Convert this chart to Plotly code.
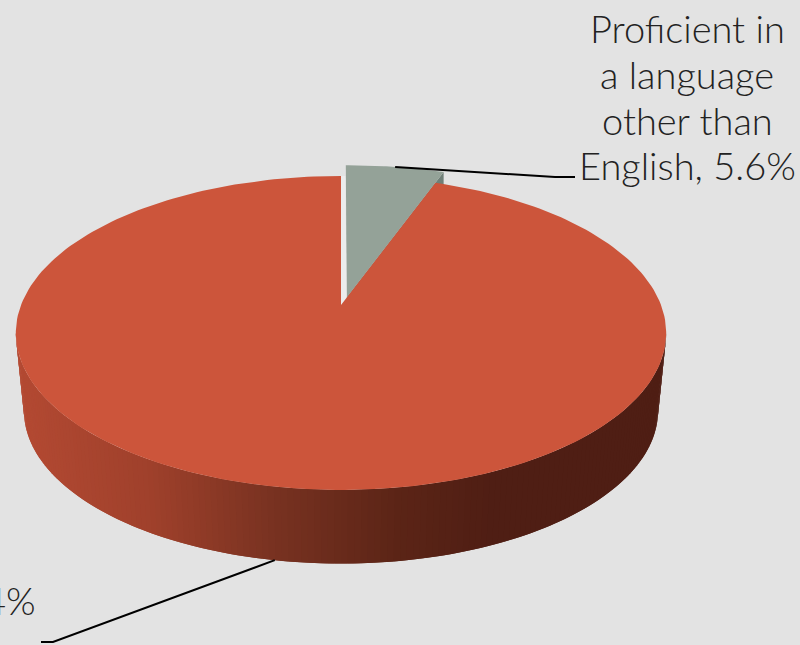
import numpy as np
import plotly.graph_objects as go

# Survey shares, in percent
categories = ["English only", "Proficient in a language other than English"]
shares = [94.4, 5.6]
label_lines = ["Proficient in", "a language", "other than", "English, 5.6%"]
clipped_label = "94.4%"

BACKGROUND = "#e3e3e3"
RED_TOP = "#cc553b"
GREY_TOP = "#94a298"
GREY_CUT = "#6f7f77"
GAP_FACE = "#ececec"
LABEL_FONT = dict(family="Lato", size=38, color="#222222", weight=300)
PERSPECTIVE = 0.178

# Colour of the disc wall, left to right across the canvas
WALL_STOPS_X = [15, 150, 280, 400, 500, 665]
WALL_STOPS_RGB = [
    (180, 74, 51), (160, 65, 44), (120, 50, 33), (92, 37, 23), (79, 30, 20), (79, 30, 20),
]


def project(u, v, rim="top"):
    """Perspective view of a point on the unit disc."""
    if rim == "top":
        cx, cy, a, b = 341.0, 305.0, 320.0, 152.0
    else:
        cx, cy, a, b = 341.0, 383.5, 312.0, 148.0
    d = 1 + PERSPECTIVE * np.asarray(v)
    return cx + a * np.asarray(u) / d, cy - b * np.asarray(v) / d


def arc(start_deg, end_deg, n, radius=1.0, du=0.0, dv=0.0):
    t = np.radians(np.linspace(start_deg, end_deg, n))
    return du + radius * np.sin(t), dv + radius * np.cos(t)


def polygon(x, y, color, line_width=0.0):
    return go.Scatter(
        x=list(x), y=list(y), mode="lines", fill="toself", fillcolor=color,
        line=dict(color=color, width=line_width), hoverinfo="skip", showlegend=False,
    )


grey_end = shares[1] / 100 * 360
GREY_R, GREY_DU, GREY_DV = 1.05, 0.018, 0.05

fig = go.Figure()

# Exploded grey slice sits behind the red one
gu, gv = arc(0, grey_end, 40, GREY_R, GREY_DU, GREY_DV)
gx, gy = project(gu, gv)
ax, ay = project(GREY_DU, GREY_DV)
apex_lx, apex_ly = project(GREY_DU, GREY_DV, "low")
fig.add_trace(polygon([ax, gx[-1], gx[-1], apex_lx, ax], [ay, gy[-1], gy[-1] + 14, apex_ly, ay], GREY_CUT))
fig.add_trace(polygon([ax, *gx, ax], [ay, *gy, ay], GREY_TOP))

# Light sliver between the two slices
rx0, ry0 = project(0.0, 0.0)
rx1, ry1 = project(0.0, 1.0)
gap_x = [rx0, rx1, gx[0] - 0.5, ax]
gap_y = [ry0, ry1, ry1, ay + 6]
fig.add_trace(polygon(gap_x + gap_x[:1], gap_y + gap_y[:1], GAP_FACE))

# Disc wall: overlapping quads shaded by horizontal position, tangent to both rims
tangent = np.degrees(np.arccos(-PERSPECTIVE))
edges = np.linspace(tangent, 360 - tangent, 161)
for k in range(len(edges) - 1):
    far = edges[min(k + 2, len(edges) - 1)]
    u, v = arc(edges[k], far, 2)
    tx, ty = project(u, v)
    bx, by = project(u, v, "low")
    mid = float(tx[0])
    rgb = [int(np.interp(mid, WALL_STOPS_X, [c[i] for c in WALL_STOPS_RGB])) for i in range(3)]
    color = f"rgb({rgb[0]},{rgb[1]},{rgb[2]})"
    fig.add_trace(polygon([tx[0], tx[1], bx[1], bx[0], tx[0]], [ty[0], ty[1], by[1], by[0], ty[0]], color))

# Red slice on top
ru, rv = arc(grey_end, 360, 240)
rx, ry = project(ru, rv)
fig.add_trace(polygon([rx0, *rx, rx0], [ry0, *ry, ry0], RED_TOP))

# Leader lines run from each slice's mid-angle to its label
mid_grey = arc(grey_end / 2, grey_end / 2, 1, GREY_R, GREY_DU, GREY_DV)
lx, ly = project(mid_grey[0][0], mid_grey[1][0])
fig.add_trace(go.Scatter(x=[lx, 555, 575], y=[ly, 177, 177], mode="lines",
                         line=dict(color="black", width=2), hoverinfo="skip", showlegend=False))
mid_red = arc(grey_end + (360 - grey_end) / 2, grey_end + (360 - grey_end) / 2, 1)
lx, ly = project(mid_red[0][0], mid_red[1][0], "low")
fig.add_trace(go.Scatter(x=[lx, 53, 41], y=[ly, 642, 642], mode="lines",
                         line=dict(color="black", width=2), hoverinfo="skip", showlegend=False))

annotations = [
    dict(x=687, y=28 + 45.8 * i, text=t, showarrow=False, xref="x", yref="y",
         xanchor="center", yanchor="middle", font=LABEL_FONT)
    for i, t in enumerate(label_lines)
]
annotations.append(dict(x=38, y=600, text=clipped_label, showarrow=False, xref="x", yref="y",
                        xanchor="right", yanchor="middle", font=LABEL_FONT))

fig.update_layout(
    width=800, height=645, margin=dict(l=0, r=0, t=0, b=0),
    paper_bgcolor=BACKGROUND, plot_bgcolor=BACKGROUND,
    xaxis=dict(range=[0, 800], visible=False, fixedrange=True),
    yaxis=dict(range=[645, 0], visible=False, fixedrange=True),
    annotations=annotations, showlegend=False,
)
fig.write_html("out.html", config={"displayModeBar": False})
